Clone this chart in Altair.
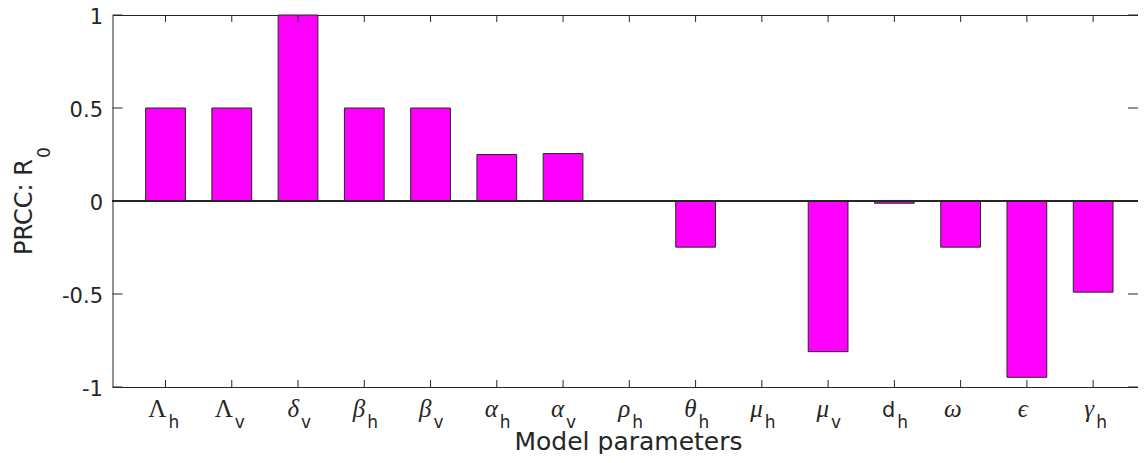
import altair as alt
import pandas as pd

# ---- data ----
bases = ["Λ", "Λ", "δ", "β", "β", "α", "α", "ρ", "θ", "μ", "μ", "d", "ω", "ϵ", "γ"]
subs = ["h", "v", "v", "h", "v", "h", "v", "h", "h", "h", "v", "h", "", "", "h"]
kinds = ["upright", "upright", "italic", "italic", "italic", "italic", "italic",
         "italic", "italic", "italic", "italic", "sans", "italic", "italic", "italic"]
values = [0.5, 0.5, 1.0, 0.5, 0.5, 0.25, 0.255, 0.002, -0.248, -0.002,
          -0.81, -0.012, -0.248, -0.948, -0.49]
y_ticks = [-1, -0.5, 0, 0.5, 1]
y_title_main = "PRCC: R"
y_title_sub = "0"
x_title = "Model parameters"

# layout (page is 1146 wide with 8px body margins -> svg must stay <= 1130 x 447)
W, H = 1025.5, 372
UNIT = 66.26                      # px per category step, as in the reference
X_MIN = 0.2
X_MAX = X_MIN + W / UNIT
AX = "#262626"
SANS = "DejaVu Sans"
SERIF = "Liberation Serif"

df = pd.DataFrame({
    "pos": list(range(1, len(values) + 1)),
    "base": bases,
    "sub": subs,
    "kind": kinds,
    "value": values,
})
yt = pd.DataFrame({"v": y_ticks})
ttl = pd.DataFrame({"main": [y_title_main], "sub": [y_title_sub]})

xs = alt.Scale(domain=[X_MIN, X_MAX], nice=False, zero=False)
ys = alt.Scale(domain=[-1, 1], nice=False, zero=False)

base = alt.Chart(df)

bars = base.transform_calculate(
    x0="datum.pos - 0.3", x1="datum.pos + 0.3"
).mark_bar(color="#FF00FF", stroke=AX, strokeWidth=1).encode(
    x=alt.X("x0:Q", scale=xs, axis=alt.Axis(
        labels=False, ticks=False, domain=False, grid=False,
        title=x_title, titleX=515.5, titleY=62,
        titleBaseline="alphabetic", titleFont=SANS, titleFontSize=25,
        titleFontWeight="normal", titleColor=AX)),
    x2="x1:Q",
    y=alt.Y("value:Q", scale=ys, axis=alt.Axis(
        values=y_ticks, labelExpr="'' + datum.value", domain=False,
        ticks=False, grid=False, labelFont=SANS, labelFontSize=21,
        labelColor=AX, labelPadding=10, labelOffset=2, title=None)),
    y2=alt.datum(0),
)

zero = base.mark_rule(color=AX, strokeWidth=1).encode(y=alt.datum(0, scale=ys))

xt_top = base.mark_rule(color=AX, strokeWidth=1).encode(
    x=alt.X("pos:Q", scale=xs), y=alt.value(0), y2=alt.value(7))
xt_bot = base.mark_rule(color=AX, strokeWidth=1).encode(
    x=alt.X("pos:Q", scale=xs), y=alt.value(H), y2=alt.value(H - 7))
yt_left = alt.Chart(yt).mark_rule(color=AX, strokeWidth=1).encode(
    y=alt.Y("v:Q", scale=ys), x=alt.value(0), x2=alt.value(10))
yt_right = alt.Chart(yt).mark_rule(color=AX, strokeWidth=1).encode(
    y=alt.Y("v:Q", scale=ys), x=alt.value(W - 10), x2=alt.value(W))

lab_up = base.transform_filter("datum.kind == 'upright'").mark_text(
    font=SERIF, fontSize=25, align="right", baseline="alphabetic", dx=1, color=AX
).encode(x=alt.X("pos:Q", scale=xs), y=alt.value(402), text="base:N")
lab_it = base.transform_filter("datum.kind == 'italic'").mark_text(
    font=SERIF, fontSize=25, fontStyle="italic", align="right",
    baseline="alphabetic", dx=1, color=AX
).encode(x=alt.X("pos:Q", scale=xs), y=alt.value(402), text="base:N")
lab_sans = base.transform_filter("datum.kind == 'sans'").mark_text(
    font=SANS, fontSize=21, align="right", baseline="alphabetic", dx=1, color=AX
).encode(x=alt.X("pos:Q", scale=xs), y=alt.value(402), text="base:N")
lab_sub = base.transform_filter("datum.sub != ''").mark_text(
    font=SANS, fontSize=17, align="left", baseline="alphabetic", dx=3, color=AX
).encode(x=alt.X("pos:Q", scale=xs), y=alt.value(413), text="sub:N")

ytitle_main = alt.Chart(ttl).mark_text(
    font=SANS, fontSize=24, angle=270, align="left", baseline="alphabetic", color=AX
).encode(x=alt.value(-80.5), y=alt.value(240), text="main:N")
ytitle_sub = alt.Chart(ttl).mark_text(
    font=SANS, fontSize=17, angle=270, align="left", baseline="alphabetic", color=AX
).encode(x=alt.value(-63), y=alt.value(143), text="sub:N")

chart = alt.layer(
    bars, zero, xt_top, xt_bot, yt_left, yt_right,
    lab_up, lab_it, lab_sans, lab_sub, ytitle_main, ytitle_sub
).properties(
    width=W, height=H,
    autosize=alt.AutoSizeParams(type="none"),
    padding={"left": 104.5, "top": 7, "right": 0, "bottom": 67},
    background="white",
).configure_view(stroke=AX, strokeWidth=1).configure_axis(grid=False)

chart.save("out.html", embed_options={"renderer": "svg", "actions": False})
